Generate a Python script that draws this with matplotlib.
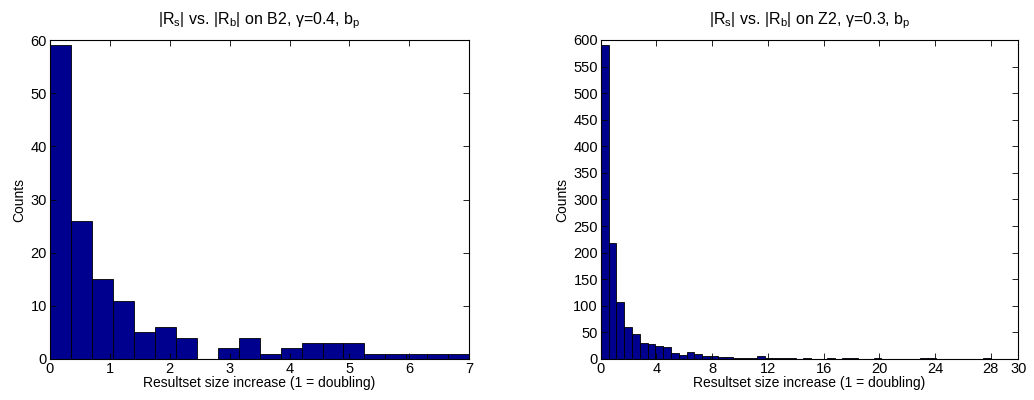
import numpy as np
import matplotlib
matplotlib.use('Agg')
import matplotlib.pyplot as plt

plt.rcParams['font.family'] = ['Liberation Sans', 'DejaVu Sans']
plt.rcParams['mathtext.fontset'] = 'custom'
plt.rcParams['mathtext.rm'] = 'Liberation Sans'
plt.rcParams['mathtext.it'] = 'Liberation Sans'
plt.rcParams['font.size'] = 10

# left panel: B2, gamma=0.4
b2_width = 0.35
b2_counts = [59, 26, 15, 11, 5, 6, 4, 0, 2, 4, 1, 2, 3, 3, 3, 1, 1, 1, 1, 1]

# right panel: Z2, gamma=0.3
z2_width = 0.56
z2_counts = [590, 218, 108, 60, 47, 30, 29, 24, 23, 11,
             7, 13, 9, 5, 5, 4, 3, 2, 1, 1,
             5, 1, 1, 1, 1, 0, 1, 0, 0, 1,
             0, 2, 2, 0, 0, 1, 0, 0, 0, 0,
             0, 1, 1, 0, 0, 0, 0, 0, 0, 1]

bar_color = '#00008f'

fig = plt.figure(figsize=(10.34, 4), dpi=100)
ax1 = fig.add_axes([0.048, 0.1025, 0.406, 0.7975])
ax2 = fig.add_axes([0.581, 0.1025, 0.404, 0.7975])


def draw(ax, counts, width, xlim, xticks, yticks, title):
    edges = np.arange(len(counts)) * width
    ax.bar(edges, counts, width=width, align='edge', color=bar_color,
           edgecolor='black', linewidth=0.6)
    ax.set_xlim(*xlim)
    ax.set_ylim(yticks[0], yticks[-1])
    ax.set_xticks(xticks)
    ax.set_yticks(yticks)
    ax.tick_params(direction='in', top=True, right=True, length=4, width=0.6,
                   pad=2, labelsize=10.5)
    for s in ax.spines.values():
        s.set_linewidth(0.8)
    ax.set_xlabel('Resultset size increase (1 = doubling)', labelpad=0, fontsize=10)
    ax.set_ylabel('Counts', labelpad=3, fontsize=10)
    ax.set_title(title, fontsize=11.5, pad=11)


draw(ax1, b2_counts, b2_width, (0, 7), range(0, 8), list(range(0, 61, 10)),
     r'|R$_\mathrm{s}$| vs. |R$_\mathrm{b}$| on B2, γ=0.4, b$_\mathrm{p}$')
draw(ax2, z2_counts, z2_width, (0, 30), list(range(0, 29, 4)) + [30],
     list(range(0, 601, 50)),
     r'|R$_\mathrm{s}$| vs. |R$_\mathrm{b}$| on Z2, γ=0.3, b$_\mathrm{p}$')

fig.savefig('out.png', dpi=100)
